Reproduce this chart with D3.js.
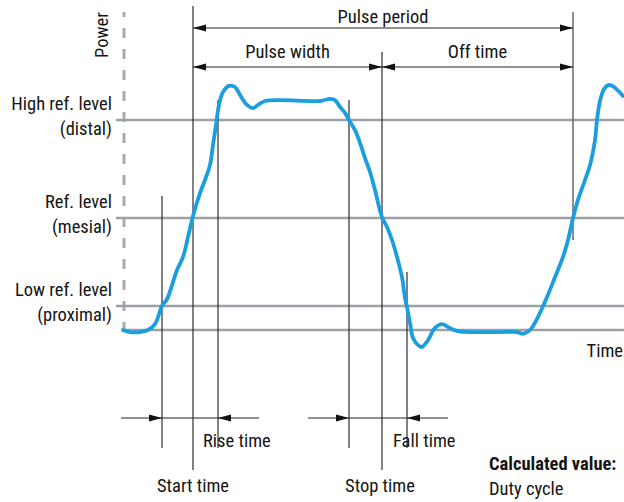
<!DOCTYPE html>
<html>
<head>
<meta charset="utf-8">
<script src="https://cdn.jsdelivr.net/npm/d3@7"></script>
<style>
  body { margin: 0; background: #fff; }
  svg text { font-family: "Liberation Sans Narrow", "Roboto Condensed", "DejaVu Sans Condensed", sans-serif; font-stretch: condensed; fill: #141414; }
</style>
</head>
<body>
<div class="chart"></div>
<script>
// signal trace: time (arbitrary units), power (% of pulse top)
var traceTime = [-1, 6, 16, 24, 31, 38, 43, 53, 59, 64, 69, 76, 81, 86, 89, 92, 95, 99, 105, 111, 116, 123, 129, 134, 141,
                 196, 206, 211, 216, 221, 225, 231, 236, 241, 246, 251, 258, 263, 268, 273, 278, 281, 283, 286, 289, 294, 298,
                 304, 311, 318, 324, 333, 346, 376, 393, 399, 406, 414, 423, 431, 439, 444, 449, 454, 461, 466, 471, 473, 476,
                 480, 485, 490, 499];
var tracePower = [0, -0.9, -0.9, 0, 2.6, 10.5, 13.5, 26.2, 31.9, 40.6, 49.8, 59.8, 65.5, 72.1, 80.8, 89.5, 98.3, 103.9, 106.6, 106.1, 102.6, 98.3, 96.9, 98.3, 100,
                  100, 100.9, 100.4, 97.4, 94.8, 91.7, 87.3, 81.7, 75.1, 69, 61.1, 49.3, 45, 39.3, 31.9, 23.1, 14, 10, 3.1, -3.5, -6.6, -7.4,
                  -4.4, 0.9, 2.6, 1.3, -0.4, -0.9, -0.9, -0.9, -1.7, 0, 5.7, 14.4, 23.1, 31.9, 39.3, 48.9, 56.8, 65.5, 72, 83, 91.7, 100,
                  105.2, 107, 106.1, 102.2];

// reference levels (power)
var levelNames = ["High ref. level", "Ref. level", "Low ref. level"];
var levelSubs = ["(distal)", "(mesial)", "(proximal)"];
var levelValues = [91.7, 48.9, 10.5];
var baseLevel = 0;

// measurement instants (time)
var markNames = ["riseStart", "start", "riseEnd", "fallStart", "stop", "fallEnd", "periodEnd"];
var markTimes = [38, 69, 94, 225, 258, 283, 449];

var chart = (function() {

    var exports = {};

////////////////////////////////// helpers

    function markAt(name){
        return markTimes[markNames.indexOf(name)];
    }

    // filled arrow head with its tip at (x,y), dir = 1 points right, -1 points left
    function arrowHead(g, x, y, dir){
        var len = 13, half = 3.5;
        g.append("path")
            .attr("d", "M" + x + "," + y + "L" + (x - dir*len) + "," + (y - half) + "L" + (x - dir*len) + "," + (y + half) + "Z")
            .style("fill", "#111");
    }

    function hline(g, x1, x2, y){
        g.append("line").attr("x1", x1).attr("x2", x2).attr("y1", y).attr("y2", y)
            .style("stroke", "#222").style("stroke-width", 1);
    }

    function label(g, txt, x, y, anchor, weight){
        return g.append("text").attr("x", x).attr("y", y)
            .attr("text-anchor", anchor || "start")
            .style("font-size", "18.5px")
            .style("font-weight", weight || "normal")
            .text(txt);
    }

/////////////////////////////////// draw

    function setup(div){
        var width = 624, height = 502;
        var svg = d3.select(div).append("svg").attr("width", width).attr("height", height);

        var x = d3.scaleLinear().domain([0, 500]).range([124, 624]);
        var y = d3.scaleLinear().domain([0, 100]).range([330, 101]);

        // dashed power axis
        svg.append("line").attr("x1", x(0)).attr("x2", x(0)).attr("y1", 12).attr("y2", y(0))
            .style("stroke", "#a6abb0").style("stroke-width", 3)
            .style("stroke-dasharray", "10,11").style("stroke-dashoffset", 5);

        // reference level lines
        svg.selectAll(".level").data(levelValues).enter().append("line")
            .attr("class", "level")
            .attr("x1", 116).attr("x2", width)
            .attr("y1", function(d){ return y(d); }).attr("y2", function(d){ return y(d); })
            .style("stroke", "#9da1a5").style("stroke-width", 2.5);
        svg.append("line").attr("x1", x(-1)).attr("x2", width).attr("y1", y(baseLevel)).attr("y2", y(baseLevel))
            .style("stroke", "#9da1a5").style("stroke-width", 2.5);

        // vertical markers
        var vert = [
            ["start", 6, 470], ["stop", 52, 470], ["riseStart", 196, 448], ["riseEnd", 100, 448],
            ["fallStart", 100, 448], ["fallEnd", 272, 448]
        ];
        vert.forEach(function(v){
            svg.append("line").attr("x1", x(markAt(v[0]))).attr("x2", x(markAt(v[0])))
                .attr("y1", v[1]).attr("y2", v[2])
                .style("stroke", "#1a1a1a").style("stroke-width", 1.1);
        });
        svg.append("line").attr("x1", x(markAt("periodEnd"))).attr("x2", x(markAt("periodEnd")))
            .attr("y1", 12).attr("y2", 240)
            .style("stroke", "#6f7275").style("stroke-width", 1.6);

        // signal trace
        var pts = traceTime.map(function(t, i){ return [t, tracePower[i]]; });
        var line = d3.line()
            .x(function(d){ return x(d[0]); })
            .y(function(d){ return y(d[1]); })
            .curve(d3.curveCatmullRom.alpha(0.5));
        svg.append("path").datum(pts).attr("d", line)
            .style("fill", "none").style("stroke", "#1a9ee0").style("stroke-width", 3.8)
            .style("stroke-linecap", "round").style("stroke-linejoin", "round");

        // top arrows
        var a = svg.append("g");
        var xs = x(markAt("start")), xp = x(markAt("stop")), xe = x(markAt("periodEnd"));
        hline(a, xs, xe, 28); arrowHead(a, xs, 28, -1); arrowHead(a, xe, 28, 1);
        hline(a, xs, xe, 67);
        arrowHead(a, xs, 67, -1); arrowHead(a, xp, 67, 1);
        arrowHead(a, xp, 67, -1); arrowHead(a, xe, 67, 1);
        label(a, "Pulse period", (xs + xe) / 2, 23, "middle");
        label(a, "Pulse width", (xs + xp) / 2, 58, "middle");
        label(a, "Off time", (xp + xe) / 2, 58, "middle");

        // bottom arrows
        var b = svg.append("g");
        var r0 = x(markAt("riseStart")), r1 = x(markAt("riseEnd"));
        hline(b, r0 - 41, r1 + 41, 418); arrowHead(b, r0, 418, 1); arrowHead(b, r1, 418, -1);
        var f0 = x(markAt("fallStart")), f1 = x(markAt("fallEnd"));
        hline(b, f0 - 41, f1 + 41, 418); arrowHead(b, f0, 418, 1); arrowHead(b, f1, 418, -1);
        label(b, "Rise time", r1 - 15, 447);
        label(b, "Fall time", f1 - 14, 447);
        label(b, "Start time", xs, 492, "middle");
        label(b, "Stop time", xp - 2, 492, "middle");
        label(b, "Calculated value:", 489, 470, "start", "bold");
        label(b, "Duty cycle", 489, 495);

        // level labels
        levelNames.forEach(function(n, i){
            var yy = y(levelValues[i]);
            label(svg, n, 112, yy - 10, "end");
            label(svg, levelSubs[i], 112, yy + 15, "end");
        });

        // axis names
        svg.append("text").attr("transform", "translate(108,35) rotate(-90)")
            .attr("text-anchor", "middle").style("font-size", "18.5px").text("Power");
        label(svg, "Time", width - 1, 357, "end");
    }

    exports.setup = setup;
    return exports;
}());

chart.setup(".chart");
</script>
</body>
</html>
